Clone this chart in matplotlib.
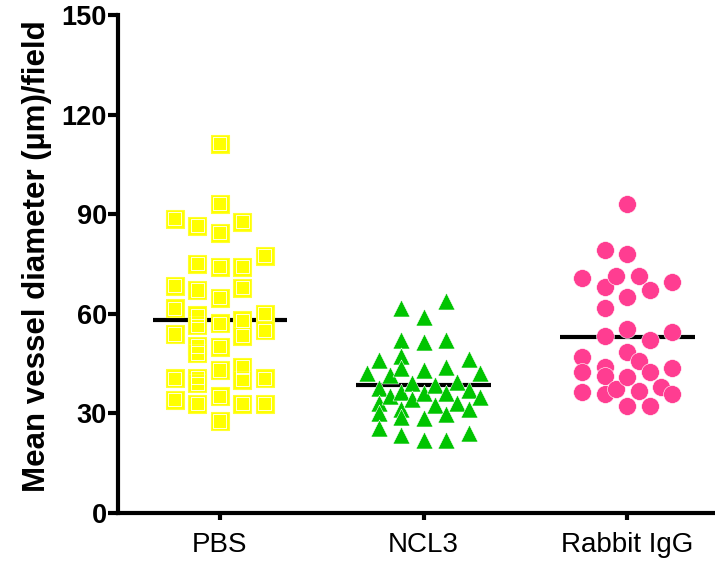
import numpy as np
import matplotlib
matplotlib.use("Agg")
import matplotlib.pyplot as plt

plt.rcParams['font.family'] = ['Liberation Sans', 'DejaVu Sans']

groups = ["PBS", "NCL3", "Rabbit IgG"]

# values, with the swarm column each point sits in
pbs = [88.6, 68.5, 61.7, 53.9, 40.6, 34.1,
       86.5, 75.1, 67.2, 59.6, 56.6, 50.3, 48.2, 40.8, 39.1, 32.9,
       111.2, 93.2, 84.4, 74.2, 64.9, 57.2, 50.1, 43.1, 35.1, 27.7,
       87.7, 74.2, 67.9, 58.0, 53.4, 44.0, 40.1, 32.9,
       77.5, 60.0, 55.0, 40.6, 32.9]
pbs_col = [-4] * 6 + [-2] * 10 + [0] * 10 + [2] * 8 + [4] * 5

ncl3 = [42.1,
        46.1, 37.6, 33.1, 30.1, 25.5,
        41.6, 35.1,
        61.7, 52.2, 47.3, 43.6, 36.3, 31.3, 28.8, 23.5,
        39.1, 34.3,
        59.0, 51.6, 43.1, 36.1, 28.6, 22.0,
        38.6, 32.6,
        64.0, 52.2, 44.1, 36.1, 29.8, 22.0,
        39.6, 33.1,
        46.5, 37.1, 31.3, 24.2,
        42.3, 34.9]
ncl3_col = ([-5] + [-4] * 5 + [-3] * 2 + [-2] * 8 + [-1] * 2 + [0] * 6
            + [1] * 2 + [2] * 6 + [3] * 2 + [4] * 4 + [5] * 2)

rabbit = [70.7, 47.1, 42.6, 36.6,
          79.1, 68.1, 61.7, 53.2, 44.1, 41.3, 35.8,
          71.3, 37.3,
          93.2, 78.1, 65.1, 55.5, 48.4, 40.9, 32.3,
          71.3, 45.9, 36.9,
          67.3, 52.2, 42.4, 32.3,
          37.9,
          69.6, 54.4, 43.6, 35.9]
rabbit_col = ([-4] * 4 + [-2] * 7 + [-1] * 2 + [0] * 7 + [1] * 3
              + [2] * 4 + [3] * 1 + [4] * 4)

slot = 0.0552  # width of one swarm column in category units

fig = plt.figure(figsize=(7.15, 5.63), dpi=100)
ax = fig.add_axes([0.165, 0.0888, 0.835, 0.8845])

# PBS: yellow squares with a thin white inner outline
x = 1 + np.array(pbs_col) * slot
ax.scatter(x, pbs, marker='s', s=155, facecolor='#ffff00', edgecolor='#ffff30',
           linewidth=0.8, zorder=3)
ax.scatter(x, pbs, marker='s', s=90, facecolor='none', edgecolor='white',
           linewidth=0.6, zorder=4)

x = 2 + np.array(ncl3_col) * slot
ax.scatter(x, ncl3, marker='^', s=150, facecolor='#00c400', edgecolor='white',
           linewidth=0.4, zorder=3)

x = 3 + np.array(rabbit_col) * slot
ax.scatter(x, rabbit, marker='o', s=165, facecolor='#ff3d91', edgecolor='white',
           linewidth=0.4, zorder=3)

for i, vals in enumerate([pbs, ncl3, rabbit]):
    m = np.mean(vals)
    ax.plot([i + 1 - 0.33, i + 1 + 0.33], [m, m], color='black', lw=3, zorder=2,
            solid_capstyle='butt')

ax.set_xlim(0.5, 3.43)
ax.set_ylim(0, 150)
ax.set_yticks([0, 30, 60, 90, 120, 150])
ax.set_xticks([1, 2, 3])
ax.set_xticklabels(groups, fontsize=20)
for lab in ax.get_yticklabels():
    lab.set_fontweight('bold')
    lab.set_fontsize(19.5)
ax.tick_params(axis='y', length=7, width=3, pad=1)
ax.tick_params(axis='x', length=5, width=3, pad=9)
for side in ['top', 'right']:
    ax.spines[side].set_visible(False)
for side in ['left', 'bottom']:
    ax.spines[side].set_linewidth(3)
ax.set_ylabel("Mean vessel diameter (µm)/field", fontsize=22.5, fontweight='bold')
ax.yaxis.set_label_coords(-0.11, 0.515)

fig.savefig("out.png", dpi=100)
